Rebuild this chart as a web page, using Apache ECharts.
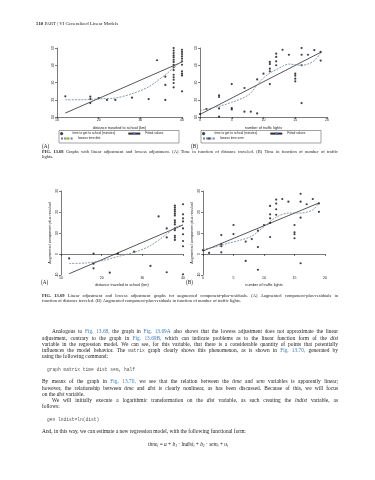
<!DOCTYPE html>
<html>
<head>
<meta charset="utf-8">
<title>Fig. 13.68 / 13.69</title>
<script src="https://cdn.jsdelivr.net/npm/echarts@6/dist/echarts.min.js"></script>
<style>
  html, body { margin: 0; padding: 0; background: #fff; }
  #page { width: 375px; height: 480px; }
</style>
</head>
<body>
<div id="page"></div>
<script>
// Fig. 13.68 (A) time to get to school vs distance
const distA = [12, 18, 18, 18, 20, 22, 24, 28, 32, 34, 36, 36, 36,
  38, 38, 38, 38, 38, 38, 38, 38, 38, 38, 38, 38, 38, 38, 38,
  40, 40, 40, 40, 40, 40, 40, 40, 40, 40, 40];
const timeA = [22.0, 21.8, 20.4, 18.1, 21.0, 19.9, 19.9, 21.2, 20.4, 42.9, 33.4, 28.6, 19.9,
  50.0, 48.5, 47.1, 45.7, 44.6, 43.2, 41.9, 40.3, 38.8, 37.2, 34.5, 33.0, 31.6, 29.7, 27.2,
  49.0, 47.7, 46.5, 45.2, 43.8, 42.3, 40.3, 36.5, 35.1, 34.0, 24.9];
const fitDistA = [12, 40];
const fitTimeA = [12.3, 41.9];
const lowDistA = [12, 16, 20, 24, 28, 32, 36, 38, 40];
const lowTimeA = [20, 20, 20.5, 21, 23.5, 27.5, 34.5, 38.5, 42.5];

// Fig. 13.68 (B) time vs number of traffic lights
const semB = [0, 1, 3, 3, 3, 3, 5, 5, 5, 7, 7, 8, 9, 9, 10, 11, 11, 11, 11, 11,
  12, 12, 12, 12, 13, 14, 15, 15, 15, 15, 16, 16, 16, 16, 17, 18, 19, 19];
const timeB = [11.7, 14.6, 22.6, 21.6, 15.0, 10.2, 29.1, 15.2, 14.4, 26.8, 13.1, 13.1, 31.8, 12.1, 35.1,
  41.9, 40.7, 38.0, 36.5, 29.1, 46.7, 44.8, 42.3, 40.0, 49.0, 46.1, 35.1, 34.0, 32.2, 30.7,
  50.0, 46.1, 40.0, 18.1, 46.1, 48.8, 47.7, 42.7];
const fitSemB = [0, 19];
const fitTimeB = [11.5, 47.5];
const lowSemB = [0, 3, 5, 7, 8, 9, 10, 11, 12, 13, 14, 15, 16, 17, 18, 19];
const lowTimeB = [13.7, 16.2, 18.5, 21.4, 23.9, 28.7, 32.6, 35.5, 37.4, 39.4, 40.7, 40.3, 40.0, 40.7, 42.7, 47.1];

// Fig. 13.69 (A) augmented component-plus-residual vs distance
const distC = [12, 18, 18, 18, 22, 24, 28, 32, 34, 36, 36, 36,
  38, 38, 38, 38, 38, 38, 38, 38, 38, 38, 38, 38, 38, 38,
  40, 40, 40, 40, 40, 40, 40, 40, 40];
const cprC = [-2.1, 0.2, -4.6, -6.8, -8.9, 0.2, 1.1, -5.7, 17.9, 12.2, 7.9, -8.7,
  23.0, 22.1, 21.1, 20.2, 19.2, 18.3, 16.0, 15.1, 14.1, 12.2, 11.3, 8.7, 7.8, 6.7,
  23.7, 18.9, 17.0, 15.5, 12.2, 9.4, 6.2, 3.7, -9.7];
const fitDistC = [12, 40];
const fitCprC = [-9.4, 13.8];
const lowDistC = [12, 16, 20, 24, 28, 32, 36, 38, 40];
const lowCprC = [-4.5, -4.3, -3.2, -1.2, 0.8, 4.0, 9.5, 12.5, 14];

// Fig. 13.69 (B) augmented component-plus-residual vs traffic lights
const semD = [0, 1, 3, 3, 3, 3, 5, 5, 7, 7, 8, 9, 9, 9, 10, 11, 11, 11, 11, 11,
  12, 12, 12, 12, 13, 14, 15, 15, 15, 15, 16, 16, 16, 16, 17, 18, 19, 19];
const cprD = [1.8, 0.5, 9.0, 4.6, 3.7, 0.8, 13.8, 9.5, 5.9, -3.3, 7.1, 11.1, 3.3, -7.5, 13.8,
  22.9, 18.9, 17.0, 14.8, 8.1, 25.9, 24.0, 21.3, 18.7, 26.2, 24.9, 13.8, 10.3, 9.4, 7.5,
  28.7, 24.9, 17.3, -4.4, 23.7, 26.2, 24.1, 20.1];
const fitSemD = [0, 19];
const fitCprD = [1.4, 24.3];
const lowSemD = [0, 2, 4, 6, 8, 10, 12, 14, 16, 18, 19];
const lowCprD = [2.2, 3.3, 5.0, 6.5, 8.5, 13, 17.5, 19.5, 19.5, 21, 24.5];

const TEXT = '#222';
const LINK = '#3a7fc0';
const SERIF = '"Liberation Serif", "DejaVu Serif", serif';
const SANS = '"Liberation Sans", Arial, sans-serif';
const MONO = '"Liberation Mono", "DejaVu Sans Mono", monospace';

const pairs = (xs, ys) => xs.map((x, i) => [x, ys[i]]);

function dots(name, xs, ys, idx) {
  return {
    type: 'scatter', name, xAxisIndex: idx, yAxisIndex: idx,
    data: pairs(xs, ys), symbolSize: 2.2, silent: true,
    itemStyle: { color: '#111' }
  };
}

function curve(name, xs, ys, idx, dashed) {
  return {
    type: 'line', name, xAxisIndex: idx, yAxisIndex: idx,
    data: pairs(xs, ys), symbol: 'none', showSymbol: false, silent: true,
    smooth: dashed ? 0.3 : false, z: 3,
    lineStyle: { color: dashed ? '#6d7f92' : '#2b2b2b', width: 0.8, type: dashed ? [2, 1.2] : 'solid' }
  };
}

const axLine = { show: true, lineStyle: { color: '#222', width: 0.6 } };
const axTick = { show: true, length: 2, lineStyle: { color: '#222', width: 0.6 } };

function xAx(idx, min, max, interval, name, gap) {
  return {
    gridIndex: idx, type: 'value', min, max, interval,
    name, nameLocation: 'middle', nameGap: gap,
    nameTextStyle: { fontSize: 3.8, color: '#222', fontFamily: SANS },
    axisLine: axLine, axisTick: axTick, splitLine: { show: false },
    axisLabel: { fontSize: 3.5, margin: 1.5, color: '#222', fontFamily: SANS }
  };
}

function yAx(idx, min, max, interval, name) {
  return {
    gridIndex: idx, type: 'value', min, max, interval,
    name, nameLocation: 'middle', nameGap: 9.5,
    nameTextStyle: { fontSize: 3.8, color: '#222', fontFamily: SANS },
    axisLine: axLine, axisTick: axTick, splitLine: { show: false },
    axisLabel: { fontSize: 3.5, margin: 1.5, rotate: 90, color: '#222', fontFamily: SANS }
  };
}

// --- page text, one word at a time so the lines can be justified ---
const ctx = document.createElement('canvas').getContext('2d');
const graphic = [];

function textLine(str, x0, x1, y, size, justify) {
  const words = str.split(' ').map(raw => {
    const m = /^([*_~`]*)(.*)$/.exec(raw);
    const f = m[1];
    const mono = f.includes('`');
    const font = (f.includes('_') ? 'italic ' : '') + (f.includes('*') ? 'bold ' : '') +
      (mono ? size * 0.85 : size) + 'px ' + (mono ? MONO : SERIF);
    ctx.font = font;
    return { text: m[2], font, w: ctx.measureText(m[2]).width,
      fill: f.includes('~') ? LINK : (mono ? '#555' : TEXT) };
  });
  ctx.font = size + 'px ' + SERIF;
  let gap = ctx.measureText(' ').width;
  if (justify && words.length > 1) {
    const sum = words.reduce((s, w) => s + w.w, 0);
    gap = (x1 - x0 - sum) / (words.length - 1);
  }
  let x = x0;
  words.forEach(w => {
    graphic.push({ type: 'text', x, y, silent: true,
      style: { text: w.text, font: w.font, fill: w.fill, verticalAlign: 'middle' } });
    x += w.w + gap;
  });
}

function plain(str, x, y, font, fill, align) {
  graphic.push({ type: 'text', x, y, silent: true,
    style: { text: str, font, fill: fill || TEXT, align: align || 'left', verticalAlign: 'middle' } });
}

const L = 42, R = 338, BS = 5.4, CS = 4.5;

textLine('*510 PART | VI Generalized Linear Models', 36, 0, 24, 4.8, false);

// figure 13.68 legend boxes and panel letters
graphic.push({ type: 'rect', silent: true, shape: { x: 59, y: 130.5, width: 120, height: 12.5 },
  style: { fill: 'none', stroke: '#444', lineWidth: 0.5 } });
graphic.push({ type: 'rect', silent: true, shape: { x: 201, y: 130.5, width: 120, height: 12.5 },
  style: { fill: 'none', stroke: '#444', lineWidth: 0.5 } });
plain('(A)', 42, 147, '5.2px ' + SERIF);
plain('(B)', 191, 147, '5.2px ' + SERIF);
textLine('*FIG. *13.68 Graphs with linear adjustment and lowess adjustment. (A) Time in function of distance traveled. (B) Time in function of number of traffic', L, R, 152, CS, true);
textLine('lights.', L, R, 157, CS, false);

plain('(A)', 41, 283, '5.2px ' + SERIF);
plain('(B)', 186, 283, '5.2px ' + SERIF);
textLine('*FIG. *13.69 Linear adjustment and lowess adjustment graphs for augmented component-plus-residuals. (A) Augmented component-plus-residuals in', L, R, 296, CS, true);
textLine('function of distance traveled. (B) Augmented component-plus-residuals in function of number of traffic lights.', L, R, 301, CS, false);

textLine('Analogous to ~Fig. ~13.68, the graph in ~Fig. ~13.69A also shows that the lowess adjustment does not approximate the linear', 52, R, 332, BS, true);
textLine('adjustment, contrary to the graph in ~Fig. ~13.69B, which can indicate problems as to the linear function form of the _dist', L, R, 338.2, BS, true);
textLine('variable in the regression model. We can see, for this variable, that there is a considerable quantity of points that potentially', L, R, 344.5, BS, true);
textLine('influences the model behavior. The `matrix graph clearly shows this phenomenon, as is shown in ~Fig. ~13.70, generated by', L, R, 350.7, BS, true);
textLine('using the following command:', L, R, 357, BS, false);
plain('graph matrix time dist sem, half', 47, 369.5, (BS * 0.85) + 'px ' + MONO, '#555');
textLine('By means of the graph in ~Fig. ~13.70, we see that the relation between the _time and _sem variables is apparently linear;', L, R, 382, BS, true);
textLine('however, the relationship between _time and _dist is clearly nonlinear, as has been discussed. Because of this, we will focus', L, R, 388.2, BS, true);
textLine('on the _dist variable.', L, R, 394.5, BS, false);
textLine('We will initially execute a logarithmic transformation on the _dist variable, as such creating the _lndist variable, as', 52, R, 400.7, BS, true);
textLine('follows:', L, R, 407, BS, false);
plain('gen lndist=ln(dist)', 47, 419.5, (BS * 0.85) + 'px ' + MONO, '#555');
textLine('And, in this way, we can estimate a new regression model, with the following functional form:', L, R, 432, BS, false);

graphic.push({ type: 'text', x: 188, y: 444.5, silent: true, style: {
  text: '{i|time}{s|i}{n| = }{i|a}{n| + }{i|b}{s|1}{n| · }{n|ln}{i|dist}{s|i}{n| + }{i|b}{s|2}{n| · }{i|sem}{s|i}{n| + }{i|u}{s|i}',
  align: 'center', verticalAlign: 'middle', fill: TEXT,
  rich: {
    i: { fontStyle: 'italic', fontSize: BS, fontFamily: SERIF, fill: TEXT },
    n: { fontSize: BS, fontFamily: SERIF, fill: TEXT },
    s: { fontStyle: 'italic', fontSize: 3.6, fontFamily: SERIF, fill: TEXT, padding: [2.5, 0, 0, 0] }
  }
} });

const legendBase = {
  orient: 'horizontal', itemWidth: 12, itemHeight: 3.2, itemGap: 12, padding: 0,
  selectedMode: false, textStyle: { fontSize: 3.2, color: '#222', fontFamily: SANS }
};

const chart = echarts.init(document.getElementById('page'), null, { renderer: 'canvas' });
chart.setOption({
  animation: false,
  backgroundColor: '#fff',
  grid: [
    { left: 57, top: 48, width: 125, height: 69, containLabel: false, outerBoundsMode: 'none' },
    { left: 200, top: 48, width: 127, height: 69, containLabel: false, outerBoundsMode: 'none' },
    { left: 61, top: 191, width: 122, height: 84, containLabel: false, outerBoundsMode: 'none' },
    { left: 203, top: 191, width: 122, height: 84, containLabel: false, outerBoundsMode: 'none' }
  ],
  xAxis: [
    xAx(0, 10, 40, 10, 'distance traveled to school (km)', 8.5),
    xAx(1, 0, 20, 5, 'number of traffic lights', 8.5),
    xAx(2, 10, 40, 10, 'distance traveled to school (km)', 8),
    xAx(3, 0, 20, 5, 'number of traffic lights', 8)
  ],
  yAxis: [
    yAx(0, 10, 50, 10, ''),
    yAx(1, 10, 50, 10, ''),
    yAx(2, -10, 30, 10, 'Augmented component plus residual'),
    yAx(3, -10, 30, 10, 'Augmented component plus residual')
  ],
  legend: [
    Object.assign({ left: 60, top: 132, data: ['time to get to school (minutes)', 'Fitted values'] }, legendBase),
    Object.assign({ left: 60, top: 137, data: ['lowess time dist'] }, legendBase),
    Object.assign({ left: 202, top: 132, data: ['time to get to school (minutes)', 'Fitted values'] }, legendBase),
    Object.assign({ left: 202, top: 137, data: ['lowess time sem'] }, legendBase)
  ],
  series: [
    dots('time to get to school (minutes)', distA, timeA, 0),
    curve('Fitted values', fitDistA, fitTimeA, 0, false),
    curve('lowess time dist', lowDistA, lowTimeA, 0, true),
    dots('time to get to school (minutes)', semB, timeB, 1),
    curve('Fitted values', fitSemB, fitTimeB, 1, false),
    curve('lowess time sem', lowSemB, lowTimeB, 1, true),
    dots('cpr dist', distC, cprC, 2),
    curve('fit cpr dist', fitDistC, fitCprC, 2, false),
    curve('lowess cpr dist', lowDistC, lowCprC, 2, true),
    dots('cpr sem', semD, cprD, 3),
    curve('fit cpr sem', fitSemD, fitCprD, 3, false),
    curve('lowess cpr sem', lowSemD, lowCprD, 3, true)
  ],
  graphic: graphic
});
</script>
</body>
</html>
